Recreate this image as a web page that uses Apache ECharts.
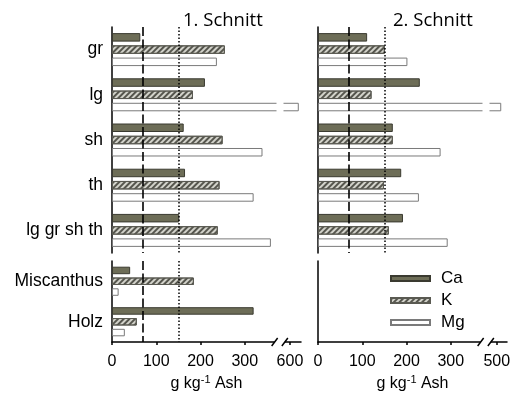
<!DOCTYPE html>
<html><head><meta charset="utf-8">
<script src="https://cdn.jsdelivr.net/npm/echarts@6/dist/echarts.min.js"></script>
<style>html,body{margin:0;padding:0;background:#fff}#c{width:517px;height:396px}</style>
</head><body><div id="c"></div>
<script>
// ---- data ----
const categoriesTop = ['gr', 'lg', 'sh', 'th', 'lg gr sh th'];
const categoriesBottom = ['Miscanthus', 'Holz'];
const seriesNames = ['Ca', 'K', 'Mg'];
// 1. Schnitt
const s1Ca = [64, 210, 162, 165, 152];
const s1K  = [255, 183, 250, 243, 239];
const s1Mg = [237, 620, 340, 320, 359];
const s1CaBottom = [41, 320];
const s1KBottom  = [185, 56];
const s1MgBottom = [15, 29];
// 2. Schnitt
const s2Ca = [111, 230, 169, 188, 192];
const s2K  = [151, 121, 169, 149, 160];
const s2Mg = [202, 510, 277, 228, 293];
// axes
const ticks1 = [0, 100, 200, 300, 600];
const ticks2 = [0, 100, 200, 300, 500];
const axisBreaks = [{ start: 372, end: 584, gap: 14 }, { start: 372, end: 482, gap: 14 }];
const axisMax = [625, 523];
const refLines = [70, 150];
const titles = ['1. Schnitt', '2. Schnitt'];

// ---- styles ----
const font = 'Liberation Sans, Arial, sans-serif';
const styles = {
  Ca: { color: '#6d6d57', borderColor: '#3a3a30', borderWidth: 1 },
  K: { color: '#d2d2ca', borderColor: '#5a5a52', borderWidth: 1,
       decal: { symbol: 'rect', symbolSize: 1, color: '#55554d', dashArrayX: [1, 0], dashArrayY: [1.3, 1.9], rotation: -Math.PI / 4 } },
  Mg: { color: '#ffffff', borderColor: '#7a7a7a', borderWidth: 1 }
};

const grids = [
  { left: 112, top: 27, width: 189, height: 226 },
  { left: 112, top: 261, width: 189, height: 81 },
  { left: 318, top: 27, width: 189, height: 226 },
  { left: 318, top: 261, width: 189, height: 81 }
];

function xAxisFor(gridIndex, panel, showAxis) {
  const ticks = panel === 0 ? ticks1 : ticks2;
  return {
    type: 'value', gridIndex: gridIndex, min: 0, max: axisMax[panel],
    breaks: [Object.assign({}, axisBreaks[panel])],
    breakArea: { show: true, expandOnClick: false, zigzagAmplitude: 0, zigzagZ: 100,
      itemStyle: { color: '#fff', borderColor: '#fff', borderWidth: 0, opacity: 1 } },
    splitLine: { show: false },
    axisLine: { show: showAxis, onZero: false, lineStyle: { color: '#000', width: 1.5 } },
    axisTick: { show: showAxis, length: 3, customValues: ticks, lineStyle: { color: '#000', width: 1.5 } },
    axisLabel: { show: showAxis, customValues: ticks, fontSize: 16, color: '#000', fontFamily: font, margin: 12 },
    name: showAxis ? 'g kg{sup|-1} Ash' : '',
    nameLocation: 'middle', nameGap: 32,
    nameTextStyle: { fontSize: 16, color: '#000', fontFamily: font,
      rich: { sup: { fontSize: 11, verticalAlign: 'top', padding: [0, 0, 8, 0], fontFamily: font, color: '#000' } } }
  };
}
function yAxisFor(gridIndex, cats, showLabels) {
  return {
    type: 'category', gridIndex: gridIndex, data: cats, inverse: true,
    axisLine: { lineStyle: { color: '#000', width: 1.5 } },
    axisTick: { inside: true, length: 4, lineStyle: { color: '#000', width: 1.5 } },
    axisLabel: { show: showLabels, fontSize: 17.5, color: '#000', fontFamily: font, margin: 9 },
    splitLine: { show: false }
  };
}

const markLineDef = {
  silent: true, symbol: 'none', animation: false, label: { show: false },
  data: [
    { xAxis: refLines[0], lineStyle: { type: [9, 3.5], color: '#000', width: 1.6 } },
    { xAxis: refLines[1], lineStyle: { type: [1.5, 2], color: '#000', width: 1.5 } }
  ]
};

function barSeries(name, data, axisIdx, top, withMark) {
  const s = {
    type: 'bar', name: name, data: data, xAxisIndex: axisIdx, yAxisIndex: axisIdx, z: 2,
    barWidth: top ? 8.5 : 7.5, barGap: '44%', itemStyle: styles[name], animation: false
  };
  if (withMark) s.markLine = markLineDef;
  return s;
}

const series = [
  barSeries('Ca', s1Ca, 0, true, true), barSeries('K', s1K, 0, true), barSeries('Mg', s1Mg, 0, true),
  barSeries('Ca', s1CaBottom, 1, false, true), barSeries('K', s1KBottom, 1, false), barSeries('Mg', s1MgBottom, 1, false),
  barSeries('Ca', s2Ca, 2, true, true), barSeries('K', s2K, 2, true), barSeries('Mg', s2Mg, 2, true)
];

const titleStyle = { fontSize: 18.5, fontWeight: 'normal', color: '#000', fontFamily: 'Open Sans, sans-serif' };
const chart = echarts.init(document.getElementById('c'), null, { renderer: 'canvas' });
chart.setOption({
  animation: false,
  backgroundColor: '#fff',
  title: [
    { text: titles[0], left: 183, top: 11, padding: 0, textStyle: titleStyle },
    { text: titles[1], left: 393, top: 11, padding: 0, textStyle: titleStyle }
  ],
  legend: {
    data: seriesNames, orient: 'vertical', left: 390, top: 270, icon: 'rect', padding: 0,
    itemWidth: 39, itemHeight: 5, itemGap: 5,
    textStyle: { fontSize: 17, color: '#000', fontFamily: font, padding: [0, 0, 0, 6] }
  },
  grid: grids,
  xAxis: [xAxisFor(0, 0, false), xAxisFor(1, 0, true), xAxisFor(2, 1, false), xAxisFor(3, 1, true)],
  yAxis: [yAxisFor(0, categoriesTop, true), yAxisFor(1, categoriesBottom, true), yAxisFor(2, categoriesTop, false), yAxisFor(3, ['', ''], false)],
  series: series
});

// axis-break marks "//" on the bottom x axes, placed from the axis scale
const slashes = [];
[[1, 0], [3, 1]].forEach(function (pair) {
  const axisIdx = pair[0], panel = pair[1];
  const g = grids[axisIdx];
  const y = g.top + g.height;
  const x1 = chart.convertToPixel({ xAxisIndex: axisIdx }, axisBreaks[panel].start);
  const x2 = chart.convertToPixel({ xAxisIndex: axisIdx }, axisBreaks[panel].end);
  [x1 - 2, x2 + 2].forEach(function (x) {
    slashes.push({ type: 'line', z: 200, shape: { x1: x - 3, y1: y + 4, x2: x + 3, y2: y - 4 },
      style: { stroke: '#000', lineWidth: 1.5 } });
  });
  // white gap in the axis line between the slashes
  slashes.push({ type: 'rect', z: 150, shape: { x: x1 - 2, y: y - 2, width: (x2 - x1) + 4, height: 4 },
    style: { fill: '#fff' } });
});
chart.setOption({ graphic: slashes });
</script></body></html>
